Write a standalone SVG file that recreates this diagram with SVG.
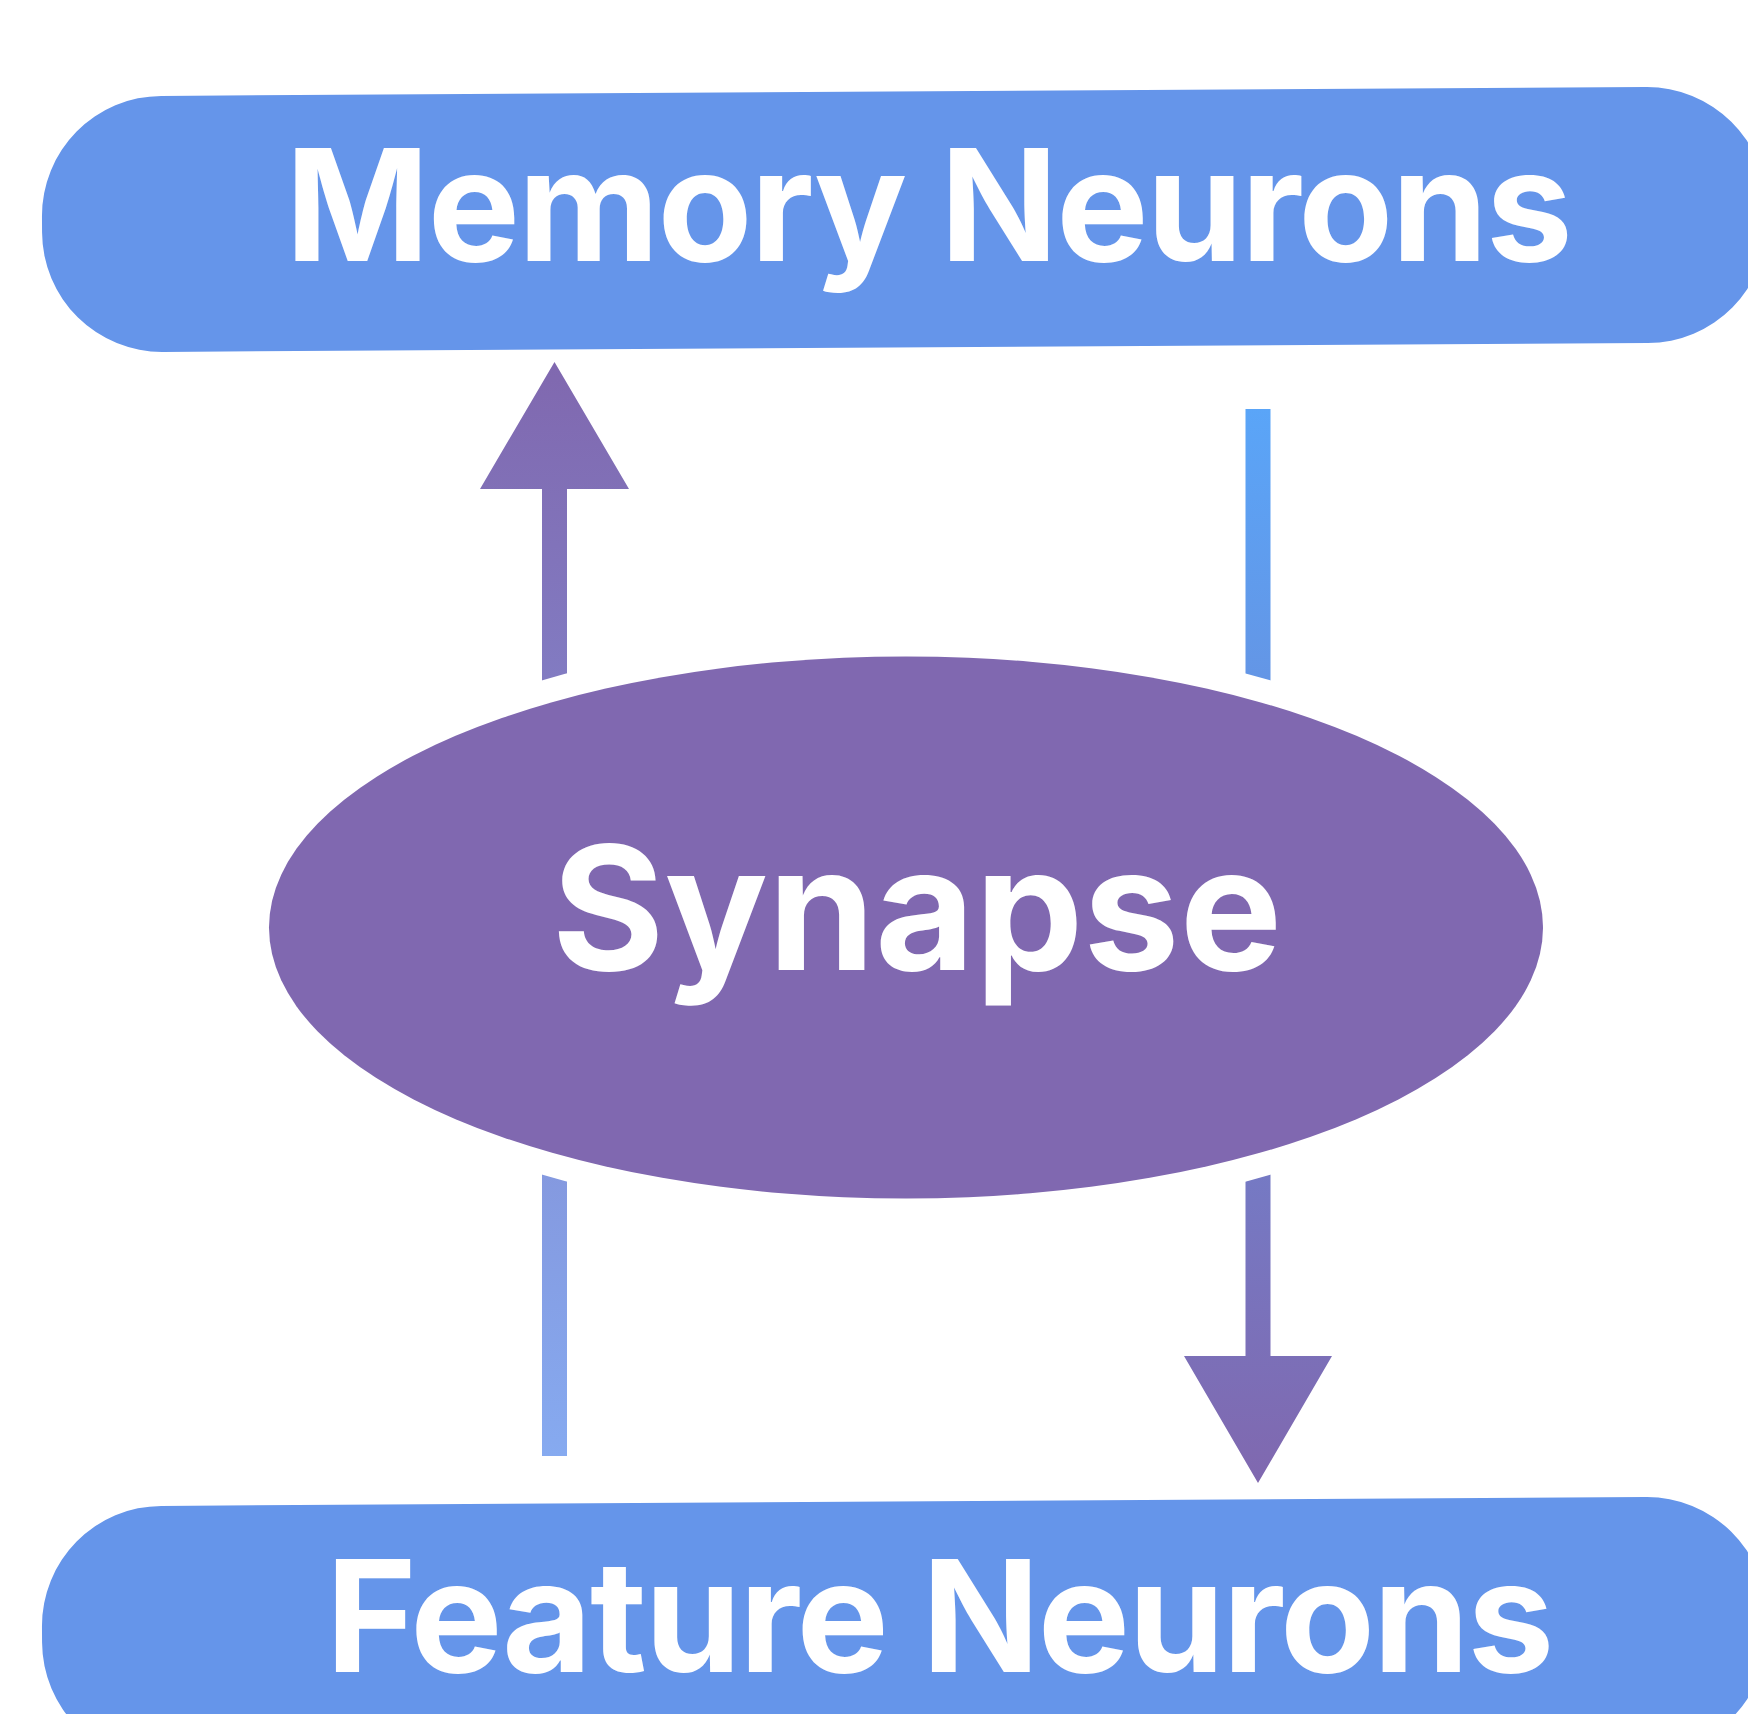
<svg xmlns="http://www.w3.org/2000/svg" width="1748" height="1714" viewBox="0 0 1748 1714">
  <style>
    .layer { fill: #6595EA; }
    .label { font-family: Inter, "Liberation Sans", sans-serif; font-weight: 700; fill: #FFFFFF; text-anchor: middle; }
    .big { font-size: 155px; letter-spacing: -2px; }
    .core { font-size: 172px; }
  </style>
  <defs>
    <!-- feature -> memory: light blue at the bottom, purple at the head -->
    <linearGradient id="gradUp" gradientUnits="userSpaceOnUse" x1="0" y1="1456" x2="0" y2="362">
      <stop offset="0" stop-color="#86AAF0"/>
      <stop offset="1" stop-color="#8068AF"/>
    </linearGradient>
    <!-- memory -> feature: bright blue at the top, purple at the head -->
    <linearGradient id="gradDown" gradientUnits="userSpaceOnUse" x1="0" y1="409" x2="0" y2="1483">
      <stop offset="0" stop-color="#5AA5F8"/>
      <stop offset="1" stop-color="#8068AF"/>
    </linearGradient>
  </defs>

  <rect width="1748" height="1714" fill="#FFFFFF"/>

  <g id="connectors">
    <path id="feature-to-memory" fill="url(#gradUp)"
          d="M542,1456 L542,489 L480,489 L554.5,362 L629,489 L567,489 L567,1456 Z"/>
    <path id="memory-to-feature" fill="url(#gradDown)"
          d="M1245.5,409 L1270.5,409 L1270.5,1356 L1332,1356 L1258,1483 L1184,1356 L1245.5,1356 Z"/>
  </g>

  <g id="memory-neurons">
    <rect class="layer" x="42" y="91.5" width="1725" height="256" rx="120" ry="120"
          transform="rotate(-0.34 904.5 219.5)"/>
    <text class="label big" x="928" y="261">Memory Neurons</text>
  </g>

  <g id="synapse">
    <!-- white halo keeps a gap between the connectors and the ellipse -->
    <ellipse cx="906" cy="927.5" rx="662" ry="296" fill="#FFFFFF"/>
    <ellipse cx="906" cy="927.5" rx="637" ry="271" fill="#8068B0"/>
    <text class="label core" x="917" y="970">Synapse</text>
  </g>

  <g id="feature-neurons">
    <rect class="layer" x="42" y="1501.5" width="1725" height="256" rx="120" ry="120"
          transform="rotate(-0.34 904.5 1629.5)"/>
    <text class="label big" x="939" y="1672">Feature Neurons</text>
  </g>
</svg>
